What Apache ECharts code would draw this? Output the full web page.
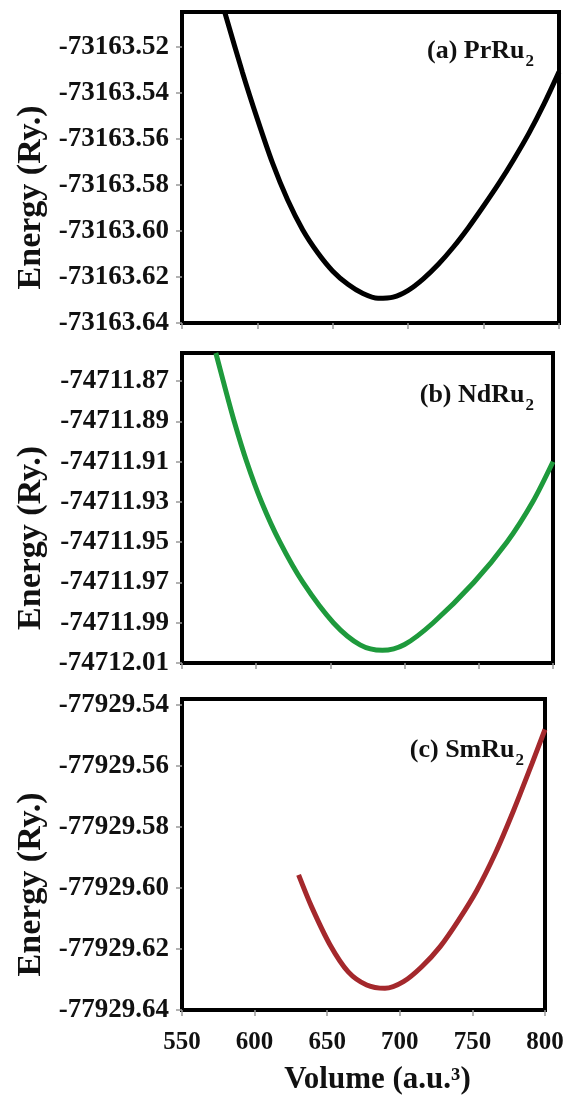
<!DOCTYPE html>
<html>
<head>
<meta charset="utf-8">
<script src="https://cdn.jsdelivr.net/npm/echarts@6/dist/echarts.min.js"></script>
<style>
html,body{margin:0;padding:0;background:#fff;}
#chart{width:575px;height:1097px;}
</style>
</head>
<body>
<div id="chart"></div>
<script>
// ---- data ----
const panelLabels = ['(a) PrRu', '(b) NdRu', '(c) SmRu'];
const xTitle = 'Volume (a.u.³)';
const yTitle = 'Energy (Ry.)';

const prV = [578.3, 590, 600, 610, 620, 630, 640, 650, 660, 670, 680, 690, 700, 710, 720, 730, 740, 750, 760, 770, 780, 790, 800];
const prE = [-73163.505, -73163.531, -73163.5515, -73163.5705, -73163.5865, -73163.5995, -73163.6095, -73163.6175, -73163.6232, -73163.6272, -73163.6293,
             -73163.6288, -73163.6258, -73163.6208, -73163.6145, -73163.6070, -73163.5985, -73163.5892, -73163.5795, -73163.5690, -73163.5577, -73163.5450, -73163.5310];

const ndV = [572.8, 577.8, 585.2, 593.6, 603.6, 616, 631.5, 652, 670, 685, 700, 719.3, 746.6, 768.9, 786.3, 800];
const ndE = [-74711.856, -74711.87, -74711.89, -74711.91, -74711.93, -74711.95, -74711.97, -74711.99, -74712.001, -74712.0037, -74712.0008, -74711.99, -74711.97, -74711.95, -74711.93, -74711.91];

const smV = [630.3, 639.2, 651.8, 664.5, 677.2, 689.8, 702.5, 715.1, 727.8, 740.5, 753.1, 765.8, 778.5, 791.1, 800];
const smE = [-77929.5957, -77929.6061, -77929.6185, -77929.6275, -77929.6318, -77929.6329, -77929.6307, -77929.6258, -77929.6192, -77929.6105, -77929.6007, -77929.5886, -77929.5744, -77929.5591, -77929.548];

const yMins = [-73163.64, -74712.01, -77929.64];
const yMaxs = [-73163.505, -74711.856, -77929.538];
const xMin = 550, xMax = 800, xStep = 50, yStep = 0.02;
// ---------------------------------------

const colors = ['#000000', '#1e9a3c', '#a4282c'];
const seriesData = [[prV, prE], [ndV, ndE], [smV, smE]];
const grids = [
  {left: 182, top: 12, width: 377, height: 311},
  {left: 182, top: 353, width: 371, height: 310},
  {left: 182, top: 699, width: 363, height: 311}
];
const titlePos = [{right: 36, top: 27}, {right: 36, top: 371}, {right: 46, top: 726}];
const font = 'Liberation Serif';

const option = {
  animation: false,
  backgroundColor: '#fff',
  title: panelLabels.map((t, i) => ({
    text: '{b|' + t + '}{s|2}',
    right: titlePos[i].right, top: titlePos[i].top,
    textStyle: {
      rich: {
        b: {fontFamily: font, fontWeight: 'bold', fontSize: 26, color: '#111', verticalAlign: 'bottom', lineHeight: 32},
        s: {fontFamily: font, fontWeight: 'bold', fontSize: 17, color: '#111', verticalAlign: 'bottom', lineHeight: 22, padding: [0, 0, -6, 1]}
      }
    }
  })),
  grid: grids.map(g => Object.assign({show: true, borderColor: '#000', borderWidth: 4, backgroundColor: 'transparent', containLabel: false}, g)),
  xAxis: grids.map((g, i) => ({
    type: 'value', gridIndex: i, min: xMin, max: xMax, interval: xStep,
    axisLine: {show: true, lineStyle: {color: '#000', width: 4}},
    axisTick: {show: true, length: 6, lineStyle: {color: '#999', width: 1.5}},
    axisLabel: {show: i === 2, fontFamily: font, fontWeight: 'bold', fontSize: 25, color: '#111', margin: 20},
    splitLine: {show: false},
    name: i === 2 ? xTitle : '', nameLocation: 'middle', nameGap: 54,
    nameTextStyle: {fontFamily: font, fontWeight: 'bold', fontSize: 31, color: '#111', padding: [0, 0, 0, 28]}
  })),
  yAxis: grids.map((g, i) => ({
    type: 'value', gridIndex: i, min: yMins[i], max: yMaxs[i], interval: yStep,
    axisLine: {show: true, lineStyle: {color: '#000', width: 4}},
    axisTick: {show: true, length: 6, lineStyle: {color: '#999', width: 1.5}},
    axisLabel: {show: true, showMaxLabel: false, fontFamily: font, fontWeight: 'bold', fontSize: 27, color: '#111', margin: 13,
      formatter: v => v.toFixed(2)},
    splitLine: {show: false},
    name: yTitle, nameLocation: 'middle', nameRotate: 90, nameGap: 133,
    nameTextStyle: {fontFamily: font, fontWeight: 'bold', fontSize: 34, color: '#111', padding: [0, 60, 0, 0]}
  })),
  series: seriesData.map((d, i) => ({
    type: 'line', xAxisIndex: i, yAxisIndex: i,
    data: d[0].map((v, k) => [v, d[1][k]]),
    smooth: 0.3, showSymbol: false, symbol: 'none',
    lineStyle: {color: colors[i], width: 5}
  }))
};

const chart = echarts.init(document.getElementById('chart'), null, {renderer: 'canvas'});
chart.setOption(option);
</script>
</body>
</html>
